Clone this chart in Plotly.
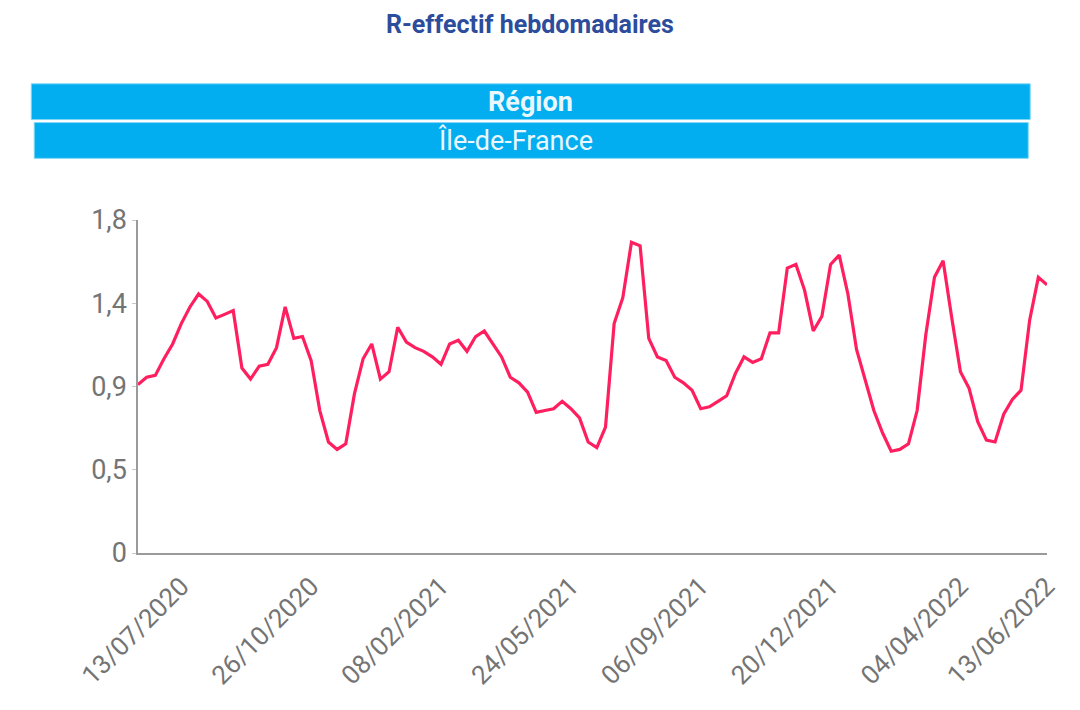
import pandas as pd
import plotly.graph_objects as go

# ---- data ----
start_week = "2020-06-08"
r_values = [
    0.91, 0.95, 0.96, 1.05, 1.13, 1.24, 1.33, 1.40, 1.36, 1.27,
    1.29, 1.31, 1.00, 0.94, 1.01, 1.02, 1.11, 1.33, 1.16, 1.17,
    1.04, 0.77, 0.60, 0.56, 0.59, 0.86, 1.05, 1.13, 0.94, 0.98,
    1.22, 1.14, 1.11, 1.09, 1.06, 1.02, 1.13, 1.15, 1.09, 1.17,
    1.20, 1.13, 1.06, 0.95, 0.92, 0.87, 0.76, 0.77, 0.78, 0.82,
    0.78, 0.73, 0.60, 0.57, 0.68, 1.24, 1.38, 1.68, 1.66, 1.16,
    1.06, 1.04, 0.95, 0.92, 0.88, 0.78, 0.79, 0.82, 0.85, 0.97,
    1.06, 1.03, 1.05, 1.19, 1.19, 1.54, 1.56, 1.42, 1.20, 1.28,
    1.56, 1.61, 1.40, 1.10, 0.94, 0.77, 0.65, 0.55, 0.56, 0.59,
    0.77, 1.18, 1.49, 1.58, 1.27, 0.98, 0.89, 0.71, 0.61, 0.60,
    0.75, 0.83, 0.88, 1.26, 1.49, 1.45,
]
weeks = pd.date_range(start=start_week, periods=len(r_values), freq="7D")

x_tick_labels = ["13/07/2020", "26/10/2020", "08/02/2021", "24/05/2021",
                 "06/09/2021", "20/12/2021", "04/04/2022", "13/06/2022"]
y_tick_values = [0, 0.45, 0.9, 1.35, 1.8]
y_tick_labels = ["0", "0,5", "0,9", "1,4", "1,8"]

title_text = "R-effectif hebdomadaires"
filter_label = "Région"
filter_value = "Île-de-France"

# ---- figure (page body has an 8px margin, so work in shifted coordinates) ----
OFF = 8
W, H = 1080 - 2 * OFF, 710 - 2 * OFF
L, T = 138 - OFF, 220 - OFF
R = W - (1058 - OFF)
B = H - (555 - OFF)
pw, ph = W - L - R, H - T - B

def px_x(px):
    return (px - OFF - L) / pw

def px_y(py):
    return 1 - (py - OFF - T) / ph

fig = go.Figure()
fig.add_trace(go.Scatter(
    x=weeks, y=r_values, mode="lines",
    line=dict(color="#FF1F5F", width=3.2),
    hoverinfo="x+y", showlegend=False,
))

tick_dates = pd.to_datetime(x_tick_labels, format="%d/%m/%Y")

fig.update_layout(
    width=W, height=H,
    margin=dict(l=L, r=R, t=T, b=B, pad=0),
    paper_bgcolor="white", plot_bgcolor="white",
    font=dict(family="Roboto, Arial, sans-serif"),
    xaxis=dict(
        range=[weeks[0], weeks[-1]],
        tickmode="array", tickvals=tick_dates, ticktext=x_tick_labels,
        tickangle=-45, tickfont=dict(size=26, color="#747474"),
        showgrid=False, zeroline=False,
        showline=True, linecolor="#9A9A9A", linewidth=1.5,
        ticks="outside", ticklen=6, tickcolor="rgba(0,0,0,0)",
    ),
    yaxis=dict(
        range=[0, 1.8],
        tickmode="array", tickvals=y_tick_values, ticktext=y_tick_labels,
        tickfont=dict(size=27, color="#747474"),
        showgrid=False, zeroline=False,
        showline=True, linecolor="#9A9A9A", linewidth=1.5,
        ticks="outside", ticklen=4, tickcolor="#C8C8C8",
    ),
)

# Title
fig.add_annotation(
    text=f"<b>{title_text}</b>", xref="paper", yref="paper",
    x=px_x(535), y=px_y(23), showarrow=False,
    font=dict(size=25, color="#2C4C9C", family="Roboto, Arial, sans-serif"),
    xanchor="center", yanchor="middle",
)

# Filter boxes
boxes = [
    (30, 1041, 83, 119, 535, f"<b>{filter_label}</b>"),
    (33, 1039, 122, 158, 520, filter_value),
]
for x0, x1, y0, y1, xc, txt in boxes:
    fig.add_shape(
        type="rect", xref="paper", yref="paper",
        x0=px_x(x0), x1=px_x(x1), y0=px_y(y1), y1=px_y(y0),
        fillcolor="#02AEEF", line=dict(color="#7FD6F7", width=1),
        layer="above",
    )
    fig.add_annotation(
        text=txt, xref="paper", yref="paper",
        x=px_x(xc), y=px_y((y0 + y1) / 2),
        showarrow=False, xanchor="center", yanchor="middle",
        font=dict(size=27, color="#EAF7FD", family="Roboto, Arial, sans-serif"),
    )

fig.write_html("out.html")
